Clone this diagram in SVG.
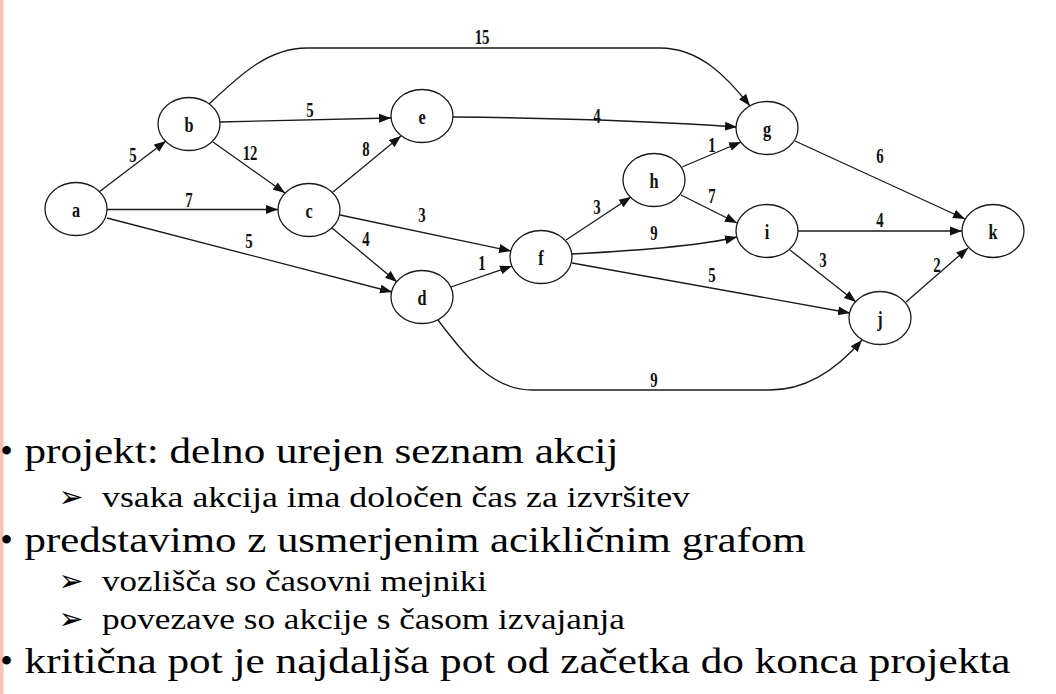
<svg xmlns="http://www.w3.org/2000/svg" width="1056" height="694" viewBox="0 0 1056 694">
<style>
.node ellipse{fill:#fff;stroke:#1a1a1a;stroke-width:1.3}
.node text,.lbl{font-family:"Liberation Serif","Times New Roman",serif;font-weight:bold;text-anchor:middle;fill:#111;transform-box:fill-box;transform-origin:center;transform:scaleX(0.74)}
.node text{font-size:22px}
.lbl{font-size:20px}
.edges path{fill:none;stroke:#1a1a1a;stroke-width:1.3;marker-end:url(#arr)}
.main{font-family:"Liberation Serif","Times New Roman",serif;font-size:36px;fill:#000}
.sub{font-family:"Liberation Serif","Times New Roman",serif;font-size:30px;fill:#000}
.dot{font-family:"Liberation Serif",serif;font-size:36px;text-anchor:middle}
.tri{font-family:"DejaVu Sans",sans-serif;font-size:30px;text-anchor:middle}
</style>
<defs>
<marker id="arr" viewBox="0 0 12 10" refX="12" refY="5" markerWidth="12" markerHeight="10" markerUnits="userSpaceOnUse" orient="auto">
<path d="M0,0.5 L12,5 L0,9.5 z" fill="#111"/>
</marker>
</defs>
<rect x="0" y="0" width="1056" height="694" fill="#fff"/>
<rect x="0" y="0" width="3.5" height="694" fill="#F9C2B2"/>

<g class="edges" id="edges">
<path d="M99,192 L166,141"/>
<path d="M107,209.5 L278,209.5"/>
<path d="M107,218 L392,292"/>
<path d="M220,122 L391,118"/>
<path d="M213,142 L285,193"/>
<path d="M333,192 L401,136"/>
<path d="M340,215 L511,251"/>
<path d="M332,228 L397,282"/>
<path d="M451,287 L512,266"/>
<path d="M209,104 C240,75 268,48 307,48 L660,48 C700,48 728,78 750,106"/>
<path d="M453,117 C560,118 650,121 737,127"/>
<path d="M682,167 L741,142"/>
<path d="M795,141 L965,219"/>
<path d="M566,240 L631,197"/>
<path d="M681,195 L737,223"/>
<path d="M572,254 C630,251 700,246 737,237"/>
<path d="M798,231 L962,231"/>
<path d="M790,250 L856,302"/>
<path d="M572,263 L850,313"/>
<path d="M906,302 L968,248"/>
<path d="M438,320 C465,356 492,390 532,390 L770,390 C808,390 838,368 862,340"/>
</g>

<g id="labels">
<text class="lbl" x="133" y="162">5</text>
<text class="lbl" x="310" y="117">5</text>
<text class="lbl" x="250" y="160">12</text>
<text class="lbl" x="189" y="207">7</text>
<text class="lbl" x="366" y="156">8</text>
<text class="lbl" x="249" y="248">5</text>
<text class="lbl" x="422" y="222">3</text>
<text class="lbl" x="366" y="246">4</text>
<text class="lbl" x="482" y="270">1</text>
<text class="lbl" x="482" y="44">15</text>
<text class="lbl" x="597" y="123">4</text>
<text class="lbl" x="712" y="152">1</text>
<text class="lbl" x="880" y="163">6</text>
<text class="lbl" x="597" y="214">3</text>
<text class="lbl" x="712" y="203">7</text>
<text class="lbl" x="654" y="240">9</text>
<text class="lbl" x="880" y="227">4</text>
<text class="lbl" x="823" y="267">3</text>
<text class="lbl" x="712" y="282">5</text>
<text class="lbl" x="937" y="272">2</text>
<text class="lbl" x="654" y="387">9</text>
</g>

<g class="node" id="node-a"><ellipse cx="76" cy="209" rx="31" ry="26.5"/><text x="76" y="217">a</text></g>
<g class="node" id="node-b"><ellipse cx="189" cy="124" rx="31" ry="26.5"/><text x="189" y="132">b</text></g>
<g class="node" id="node-e"><ellipse cx="422" cy="116" rx="31" ry="26.5"/><text x="422" y="124">e</text></g>
<g class="node" id="node-c"><ellipse cx="309" cy="210" rx="31" ry="26.5"/><text x="309" y="218">c</text></g>
<g class="node" id="node-d"><ellipse cx="422" cy="297" rx="31" ry="26.5"/><text x="422" y="305">d</text></g>
<g class="node" id="node-f"><ellipse cx="541" cy="257" rx="31" ry="26.5"/><text x="541" y="265">f</text></g>
<g class="node" id="node-h"><ellipse cx="654" cy="180" rx="31" ry="26.5"/><text x="654" y="188">h</text></g>
<g class="node" id="node-g"><ellipse cx="767" cy="128" rx="31" ry="26.5"/><text x="767" y="136">g</text></g>
<g class="node" id="node-i"><ellipse cx="767" cy="231" rx="31" ry="26.5"/><text x="767" y="239">i</text></g>
<g class="node" id="node-k"><ellipse cx="993" cy="231" rx="31" ry="26.5"/><text x="993" y="239">k</text></g>
<g class="node" id="node-j"><ellipse cx="880" cy="318" rx="31" ry="26.5"/><text x="880" y="326">j</text></g>

<g id="bullets">
<text class="dot" x="6.5" y="463">•</text>
<text class="main" x="24.5" y="463" textLength="594" lengthAdjust="spacingAndGlyphs">projekt: delno urejen seznam akcij</text>
<text class="tri" x="71" y="507">➢</text>
<text class="sub" x="102" y="507" textLength="588" lengthAdjust="spacingAndGlyphs">vsaka akcija ima določen čas za izvršitev</text>
<text class="dot" x="6.5" y="552">•</text>
<text class="main" x="24.5" y="552" textLength="781" lengthAdjust="spacingAndGlyphs">predstavimo z usmerjenim acikličnim grafom</text>
<text class="tri" x="71" y="591">➢</text>
<text class="sub" x="102" y="591" textLength="385" lengthAdjust="spacingAndGlyphs">vozlišča so časovni mejniki</text>
<text class="tri" x="71" y="629">➢</text>
<text class="sub" x="102" y="629" textLength="523" lengthAdjust="spacingAndGlyphs">povezave so akcije s časom izvajanja</text>
<text class="dot" x="6.5" y="673">•</text>
<text class="main" x="24.5" y="673" textLength="986" lengthAdjust="spacingAndGlyphs">kritična pot je najdaljša pot od začetka do konca projekta</text>
</g>
</svg>
